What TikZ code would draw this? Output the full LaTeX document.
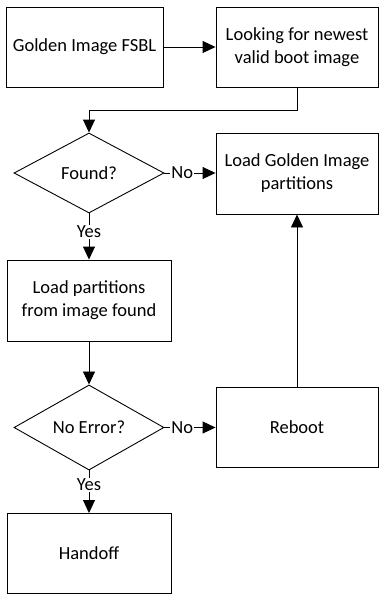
\documentclass[tikz,border=0pt]{standalone}
\usepackage{fontspec}
\setmainfont{Carlito}
\usetikzlibrary{arrows.meta,shapes.geometric}
\begin{document}
\begin{tikzpicture}[x=1pt,y=-1pt,
  every node/.style={font=\fontsize{18.5}{23}\selectfont},
  box/.style={draw,line width=0.9pt,align=center,inner sep=0pt,minimum height=80pt},
  dia/.style={draw,diamond,line width=0.9pt,inner sep=0pt,minimum width=150pt,minimum height=80pt},
  arr/.style={line width=0.9pt,-{Triangle[length=13pt,width=12pt]}},
  lbl/.style={fill=white,inner sep=1pt}]
\useasboundingbox (0,0) rectangle (379,594);
\node[box,minimum width=157pt] (fsbl) at (84.5,47) {Golden Image FSBL};
\node[box,minimum width=162pt] (look) at (297,47) {Looking for newest\\valid boot image};
\node[dia] (found) at (89,173) {Found?};
\node[box,minimum width=162pt,minimum height=81pt] (golden) at (297,173.5) {Load Golden Image\\partitions};
\node[box,minimum width=164pt,minimum height=81pt] (loadp) at (89,300.5) {Load partitions\\from image found};
\node[dia,minimum height=81pt] (noerr) at (89,427.5) {No Error?};
\node[box,minimum width=162pt] (reboot) at (297,427) {Reboot};
\node[box,minimum width=164pt] (handoff) at (89,553.5) {Handoff};
\draw[arr] (fsbl) -- (look);
\draw[arr] (look.south) -- ++(0,23) -| (found.north);
\draw[arr] (found.east) -- node[lbl,pos=0.35] {No} (golden.west |- found.east);
\draw[arr] (found.south) -- node[lbl,pos=0.4] {Yes} (loadp.north);
\draw[arr] (loadp.south) -- (noerr.north);
\draw[arr] (noerr.east) -- node[lbl,pos=0.35] {No} (reboot.west |- noerr.east);
\draw[arr] (noerr.south) -- node[lbl,pos=0.33] {Yes} (handoff.north);
\draw[arr] (reboot.north) -- (golden.south);
\end{tikzpicture}
\end{document}
